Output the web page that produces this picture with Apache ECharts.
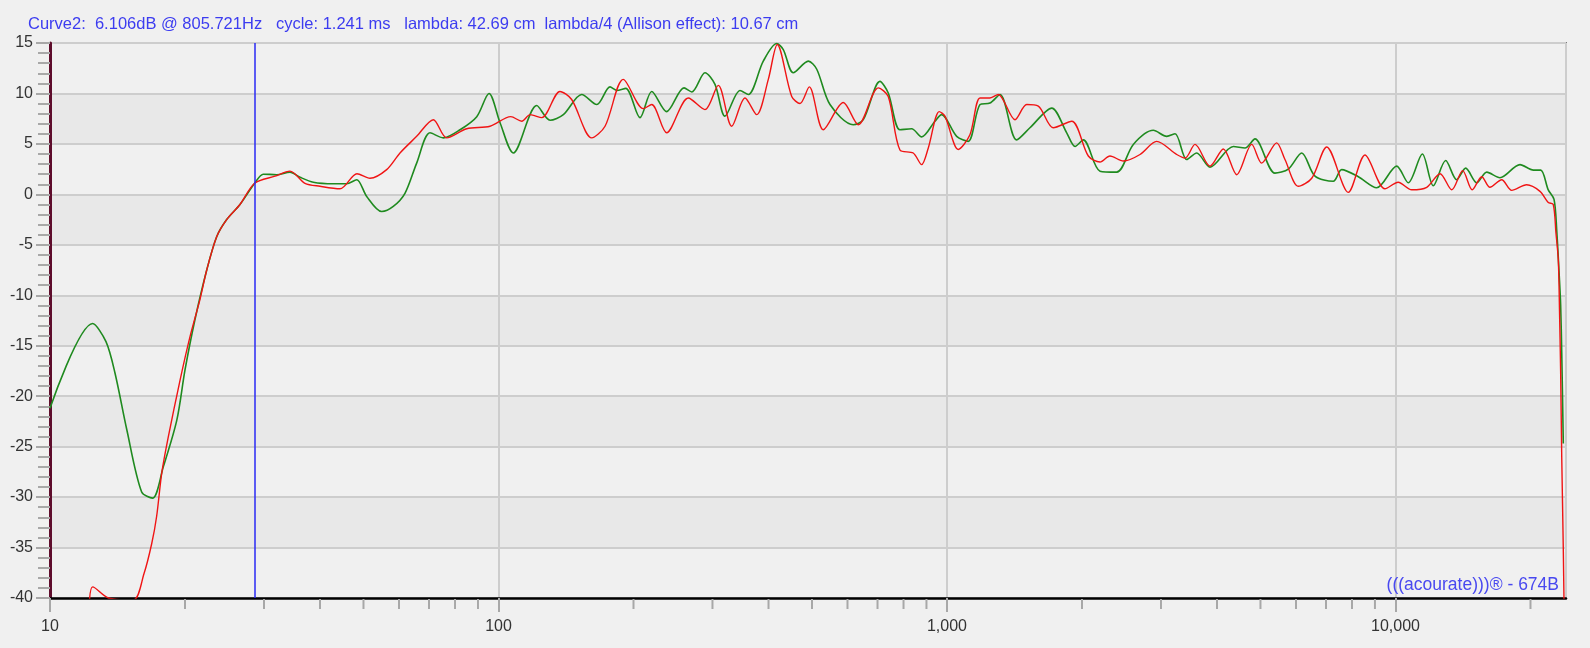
<!DOCTYPE html>
<html>
<head>
<meta charset="utf-8">
<script src="https://cdn.jsdelivr.net/npm/echarts@6/dist/echarts.min.js"></script>
<style>
html,body{margin:0;padding:0;background:#f0f0f0;}
#c{width:1590px;height:648px;}
</style>
</head>
<body>
<div id="c"></div>
<script>
// ---- data (frequency in Hz, level in dB) ----
const titleText = 'Curve2:  6.106dB @ 805.721Hz   cycle: 1.241 ms   lambda: 42.69 cm  lambda/4 (Allison effect): 10.67 cm';
const watermarkText = '(((acourate)))\u00AE - 674B';
const cursorFreq = 28.6;
const xMin = 10, xMax = 24000;
const yMin = -40, yMax = 15, yStep = 5;
const minorFreqs = [20,30,40,50,60,70,80,90,200,300,400,500,600,700,800,900,2000,3000,4000,5000,6000,7000,8000,9000,20000];

const greenCurve = [
 [10,-21.2],[12.45,-12.8],[13.33,-14.6],[13.96,-17.7],[14.83,-23.3],[16.01,-29.5],[16.94,-30.1],[17.89,-27.0],
 [19.17,-22.4],[20.0,-17.4],[21.05,-12.4],[22.36,-7.5],[23.53,-4.2],[24.77,-2.5],[26.52,-1.0],[28.6,1.1],
 [29.89,2.0],[32.03,1.95],[34.28,2.2],[36.09,1.7],[38.65,1.2],[42.82,1.05],[45.86,1.05],[48.28,1.45],
 [50.83,-0.2],[54.9,-1.7],[58.26,-1.2],[61.86,0.1],[65.7,3.1],[70.37,6.1],[75.33,5.6],[82.09,6.4],
 [89.44,7.7],[95.24,10.0],[100.8,7.1],[107.9,4.1],[121.7,8.8],[130.3,7.35],[139.5,7.9],[153.3,9.9],
 [165.6,8.9],[177.3,10.65],[183.5,10.3],[192.2,10.5],[206.8,7.6],[219.6,10.2],[237.1,8.2],[259.2,10.55],
 [269.7,10.15],[288.7,12.05],[303.9,10.9],[319.9,7.75],[345.6,10.3],[360.6,9.9],[389.4,13.2],[417.2,14.95],
 [431.5,14.35],[454.3,12.05],[490.6,13.2],[512.4,12.4],[548.4,8.9],[618.1,6.9],[650.7,7.4],[708.9,11.2],
 [739.7,10.05],[785.4,6.4],[834,6.5],[878,5.7],[940,7.25],[973,7.9],[1051,5.75],[1115,5.25],[1185,8.9],
 [1247,9.05],[1313,9.9],[1430,5.4],[1531,6.6],[1712,8.55],[1849,6.1],[1930,4.75],[2014,5.4],[2194,2.3],
 [2390,2.2],[2603,4.95],[2884,6.35],[3090,5.75],[3225,6.0],[3424,3.45],[3604,4.1],[3859,2.7],[4350,4.75],
 [4618,4.6],[4861,5.5],[5386,2.1],[5768,2.5],[6179,4.1],[6615,1.8],[7266,1.3],[7586,2.45],[8263,1.75],
 [9080,0.65],[10060,2.8],[10680,1.15],[11480,4.0],[12140,0.85],[12940,3.35],[13690,1.45],[14340,2.6],
 [15180,1.15],[15980,2.2],[17100,1.65],[18950,2.95],[20300,2.4],[21080,2.4],[21910,0.45],[22570,-0.5],
 [22880,-3.5],[23210,-8.5],[23350,-11.0],[23480,-15.7],[23670,-24.7]
];

const redCurve = [
 [12.24,-40.5],[12.45,-38.9],[13.49,-40.0],[15.34,-40.2],[16.2,-37.6],[16.86,-34.6],[17.29,-31.9],[17.75,-27.6],
 [18.36,-24.0],[19.5,-18.4],[20.52,-14.1],[21.6,-10.4],[22.36,-7.5],[23.53,-4.2],[24.77,-2.5],[26.52,-1.0],
 [28.6,1.1],[31.75,1.8],[34.28,2.3],[37.03,1.1],[40.0,0.8],[44.32,0.55],[48.36,2.05],[51.7,1.6],[56.32,2.45],
 [60.31,4.1],[65.7,5.75],[71.55,7.4],[76.64,5.6],[84.94,6.5],[95.74,6.75],[106.5,7.7],[112.7,7.25],[117.6,7.9],
 [124.9,7.6],[137.1,10.2],[145.6,9.4],[161.4,5.6],[172.8,6.75],[189.8,11.4],[210.3,8.5],[219.6,8.9],[237.1,6.1],
 [265.0,9.55],[288.7,8.4],[309.1,10.8],[331.1,6.75],[354.5,9.55],[376.4,7.9],[399.6,11.4],[418.4,14.85],
 [450.6,9.7],[470.2,9.0],[493.2,10.65],[529.9,6.4],[587.1,9.1],[634.2,6.9],[702.8,10.55],[739.7,9.7],
 [785.4,4.4],[840.8,4.1],[878,2.95],[908.5,4.6],[961,8.2],[989.7,7.75],[1060,4.45],[1125,5.9],[1185,9.55],
 [1247,9.55],[1301,9.9],[1418,7.4],[1506,8.9],[1598,8.75],[1726,6.6],[1897,7.25],[2066,3.8],[2194,3.2],
 [2309,3.8],[2473,3.3],[2694,3.95],[2934,5.25],[3253,3.95],[3395,3.6],[3573,4.95],[3859,2.8],[4132,4.5],
 [4426,1.95],[4780,4.95],[5031,3.1],[5433,5.1],[5670,3.45],[6073,0.8],[6506,1.6],[7026,4.7],[7849,0.2],
 [8551,3.9],[9476,0.55],[10140,1.2],[10870,0.45],[11740,0.7],[12570,2.05],[13350,0.45],[14120,2.35],
 [14830,0.45],[15570,1.75],[16240,0.7],[17250,1.45],[18160,0.4],[19610,0.95],[21000,0.3],[21910,-0.8],
 [22480,-1.0],[22790,-3.8],[23070,-6.5],[23210,-11.4],[23350,-17.7],[23480,-26.0],[23670,-35.2],[23880,-48.0]
];

const FONT = "'Liberation Sans', Arial, sans-serif";
const chart = echarts.init(document.getElementById('c'));

function fmtFreq(v){
  const lg = Math.log10(v);
  if (Math.abs(lg - Math.round(lg)) > 1e-6) return '';
  return Math.round(v).toString().replace(/\B(?=(\d{3})+(?!\d))/g, ',');
}

chart.setOption({
  animation: false,
  backgroundColor: '#f0f0f0',
  title: {
    text: titleText, left: 23, top: 11,
    textStyle: {fontSize: 16.5, fontWeight: 'normal', color: '#3c3cf0', fontFamily: FONT}
  },
  graphic: [{
    type: 'text', right: 31, bottom: 54, z: 100,
    style: {text: watermarkText, fill: '#4848f0', font: "17.5px " + FONT}
  }],
  grid: {left: 50, right: 24, top: 43, bottom: 50, show: true, borderColor: '#7a7a7a', borderWidth: 2, backgroundColor: 'transparent'},
  xAxis: {
    type: 'log', logBase: 10, min: xMin, max: xMax,
    axisLine: {show: true, onZero: false, lineStyle: {color: '#000', width: 2.5}},
    axisTick: {show: true, length: 14, lineStyle: {color: '#a8a8a8', width: 2}},
    splitLine: {show: true, lineStyle: {color: '#cdcdcd', width: 2}},
    minorTick: {show: false},
    axisLabel: {color: '#333', fontSize: 16, fontFamily: FONT, margin: 21, formatter: fmtFreq, showMaxLabel: false}
  },
  yAxis: {
    type: 'value', min: yMin, max: yMax, interval: yStep,
    axisLine: {show: true, lineStyle: {color: '#5e0d2c', width: 3}},
    axisTick: {show: true, length: 14, lineStyle: {color: '#a8a8a8', width: 2}},
    minorTick: {show: true, splitNumber: 5, length: 12, lineStyle: {color: '#a8a8a8', width: 2}},
    splitLine: {show: true, lineStyle: {color: '#cdcdcd', width: 2}},
    splitArea: {show: true, areaStyle: {color: ['#f0f0f0', '#e8e8e8']}},
    axisLabel: {color: '#333', fontSize: 16, fontFamily: FONT, margin: 17}
  },
  series: [
    {
      type: 'custom', name: 'minorTicks', silent: true, clip: false,
      data: minorFreqs.map(f => [f, yMin]),
      renderItem: function(params, api){
        const p = api.coord([api.value(0), api.value(1)]);
        return {type: 'line', shape: {x1: p[0], y1: p[1] + 1, x2: p[0], y2: p[1] + 11},
                style: {stroke: '#a8a8a8', lineWidth: 2}};
      },
      z: 1
    },
    {
      type: 'line', name: 'Curve1', data: greenCurve, showSymbol: false, symbol: 'none',
      smooth: 0.3,
      lineStyle: {color: '#1f8a1f', width: 1.6}, z: 3,
      markLine: {
        silent: true, symbol: ['none', 'none'], label: {show: false},
        lineStyle: {color: '#2a2af5', width: 1.5, type: 'solid'},
        data: [{xAxis: cursorFreq}]
      }
    },
    {
      type: 'line', name: 'Curve2', data: redCurve, showSymbol: false, symbol: 'none',
      smooth: 0.3,
      lineStyle: {color: '#f01414', width: 1.4}, z: 4
    }
  ]
});
</script>
</body>
</html>
